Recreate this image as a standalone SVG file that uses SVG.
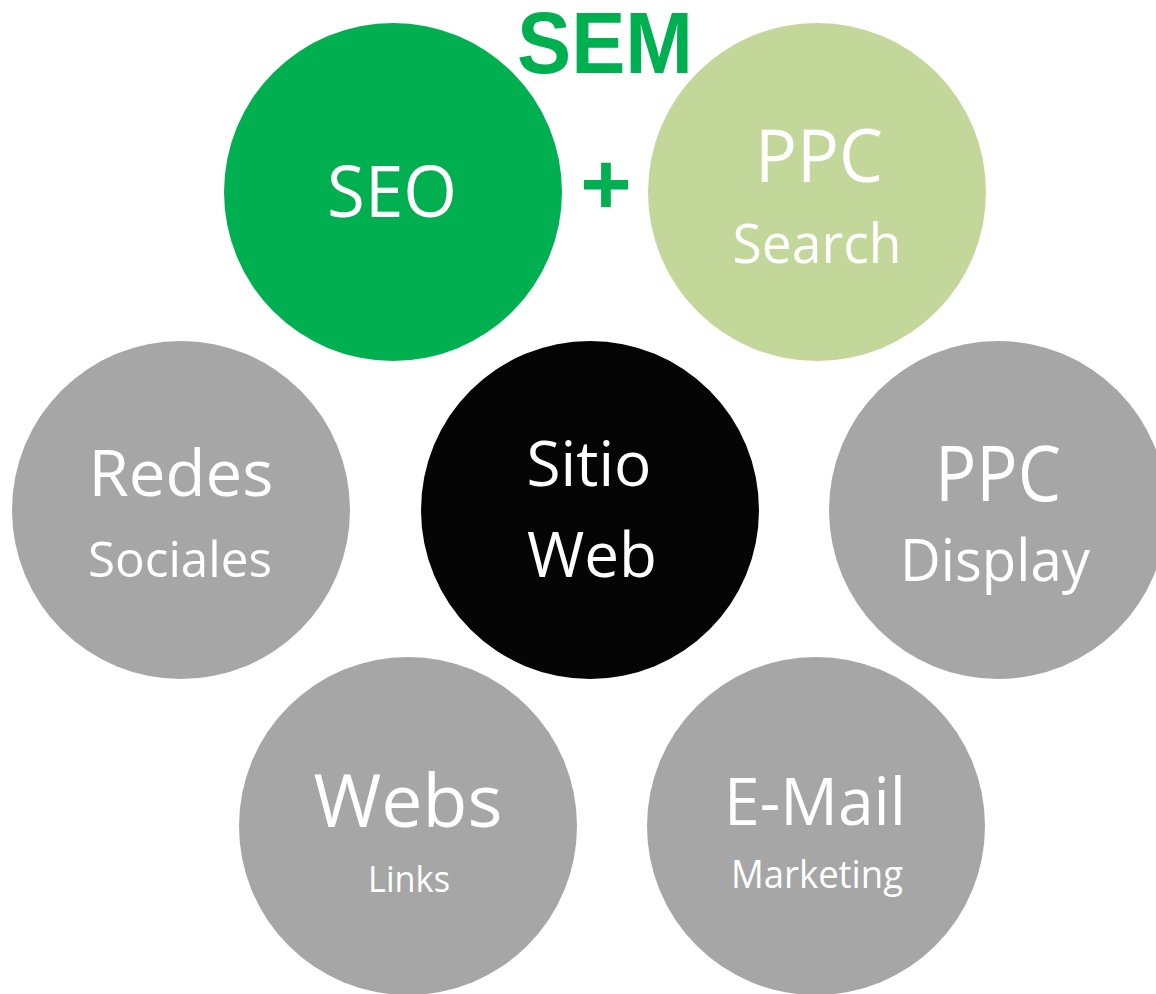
<svg xmlns="http://www.w3.org/2000/svg" width="1156" height="994" viewBox="0 0 1156 994">
<style>
.t{font-family:"Open Sans","Noto Sans","Liberation Sans",sans-serif;fill:#ffffff;text-anchor:middle}
.g{font-family:"Liberation Sans",Arial,sans-serif;font-weight:bold;fill:#00b050;text-anchor:middle}
.gray{fill:#a6a6a6}
</style>
<rect x="0" y="0" width="1156" height="994" fill="#ffffff"/>
<g id="connectors"></g>
<g id="sem-title">
<text class="g" x="605" y="73" font-size="88" textLength="176" lengthAdjust="spacingAndGlyphs">SEM</text>
<text class="g" x="606" y="214" font-size="88">+</text>
</g>
<g id="node-seo">
<circle cx="393" cy="192" r="169" fill="#00b050"/>
<text class="t" x="392" y="217" font-size="71" textLength="130" lengthAdjust="spacingAndGlyphs">SEO</text>
</g>
<g id="node-ppc-search">
<circle cx="817" cy="192" r="169" fill="#c4d79b"/>
<text class="t" x="819" y="182" font-size="74" textLength="128" lengthAdjust="spacingAndGlyphs">PPC</text>
<text class="t" x="817" y="263" font-size="54" textLength="169" lengthAdjust="spacingAndGlyphs">Search</text>
</g>
<g id="node-redes">
<circle class="gray" cx="181" cy="510" r="169"/>
<text class="t" x="181" y="496" font-size="64" textLength="185" lengthAdjust="spacingAndGlyphs">Redes</text>
<text class="t" x="180" y="577" font-size="50" textLength="184" lengthAdjust="spacingAndGlyphs">Sociales</text>
</g>
<g id="node-sitio-web">
<circle cx="590" cy="510" r="169" fill="#050505"/>
<text class="t" x="589" y="486" font-size="62" textLength="125" lengthAdjust="spacingAndGlyphs">Sitio</text>
<text class="t" x="592" y="577" font-size="63" textLength="130" lengthAdjust="spacingAndGlyphs">Web</text>
</g>
<g id="node-ppc-display">
<circle class="gray" cx="998" cy="510" r="169"/>
<text class="t" x="998" y="501" font-size="76" textLength="126" lengthAdjust="spacingAndGlyphs">PPC</text>
<text class="t" x="995" y="581" font-size="58" textLength="190" lengthAdjust="spacingAndGlyphs">Display</text>
</g>
<g id="node-webs">
<circle class="gray" cx="408" cy="826" r="169"/>
<text class="t" x="408" y="827" font-size="74" textLength="189" lengthAdjust="spacingAndGlyphs">Webs</text>
<text class="t" x="409" y="892" font-size="36" textLength="82" lengthAdjust="spacingAndGlyphs">Links</text>
</g>
<g id="node-email">
<circle class="gray" cx="816" cy="826" r="169"/>
<text class="t" x="815" y="825" font-size="66" textLength="182" lengthAdjust="spacingAndGlyphs">E-Mail</text>
<text class="t" x="817" y="888" font-size="38" textLength="172" lengthAdjust="spacingAndGlyphs">Marketing</text>
</g>
</svg>
